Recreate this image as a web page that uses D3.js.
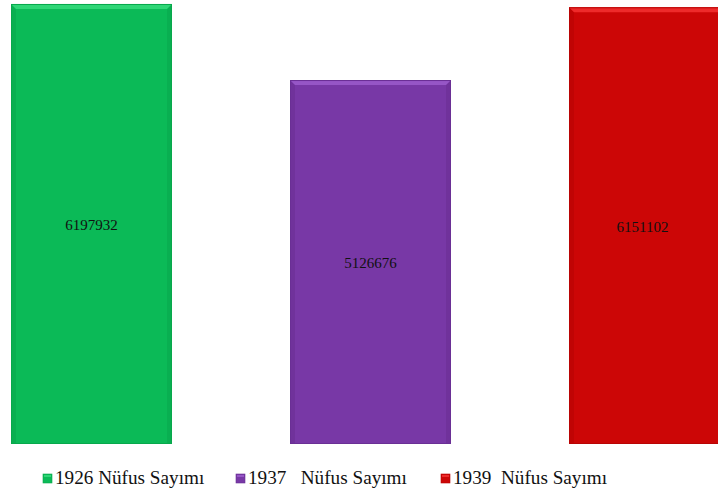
<!DOCTYPE html>
<html>
<head>
<meta charset="utf-8">
<script src="https://cdn.jsdelivr.net/npm/d3@7"></script>
<style>
  body { margin: 0; background: #fff; }
  svg { display: block; font-family: "Liberation Serif", "Times New Roman", serif; }
</style>
</head>
<body>
<svg id="chart" width="718" height="492"></svg>
<script>
const censuses = ["1926 Nüfus Sayımı", "1937   Nüfus Sayımı", "1939  Nüfus Sayımı"];
const population = [6197932, 5126676, 6151102];
const barColors = ["#0bba57", "#7838a6", "#cc0606"];
const topColors = ["#2fd676", "#9656c6", "#ee2a2a"];
const sideColors = ["#08a84c", "#6a2f95", "#b80404"];

const svg = d3.select("#chart");

const x = d3.scaleBand()
  .domain(censuses)
  .range([11, 730])
  .paddingInner(118 / 279)
  .paddingOuter(0);

const y = d3.scaleLinear()
  .domain([0, 6254000])
  .range([444, 0]);

const bev = 5;

censuses.forEach((c, i) => {
  const x0 = x(c), w = x.bandwidth();
  const y0 = y(population[i]), y1 = y(0);
  const g = svg.append("g");

  // body
  g.append("rect")
    .attr("x", x0).attr("y", y0)
    .attr("width", w).attr("height", y1 - y0)
    .attr("fill", barColors[i]);

  // left / right bevel edges
  g.append("polygon")
    .attr("points", [[x0, y0], [x0 + bev, y0 + bev], [x0 + bev, y1 - 1], [x0, y1]].join(" "))
    .attr("fill", sideColors[i]).attr("opacity", 0.6);
  g.append("polygon")
    .attr("points", [[x0 + w, y0], [x0 + w - bev, y0 + bev], [x0 + w - bev, y1 - 1], [x0 + w, y1]].join(" "))
    .attr("fill", sideColors[i]).attr("opacity", 0.6);

  // top bevel
  g.append("polygon")
    .attr("points", [[x0, y0], [x0 + w, y0], [x0 + w - bev, y0 + bev], [x0 + bev, y0 + bev]].join(" "))
    .attr("fill", topColors[i]);

  // outline
  g.append("rect")
    .attr("x", x0 + 0.5).attr("y", y0 + 0.5)
    .attr("width", w - 1).attr("height", y1 - y0 - 1)
    .attr("fill", "none")
    .attr("stroke", sideColors[i]).attr("stroke-width", 1);

  // value label
  g.append("text")
    .attr("x", x0 + w / 2 - (i === 2 ? 7 : 0))
    .attr("y", (y0 + y1) / 2 + 2.5)
    .attr("text-anchor", "middle")
    .attr("dominant-baseline", "middle")
    .attr("font-size", 15)
    .attr("fill", "#111")
    .text(population[i]);
});

// legend
const legendX = [43, 236, 441];
const legend = svg.append("g");
censuses.forEach((c, i) => {
  const lg = legend.append("g").attr("transform", `translate(${legendX[i]},474)`);
  lg.append("rect")
    .attr("x", 0).attr("y", 0).attr("width", 9).attr("height", 9)
    .attr("fill", barColors[i])
    .attr("stroke", sideColors[i]).attr("stroke-width", 0.6);
  lg.append("rect")
    .attr("x", 1).attr("y", 1).attr("width", 7).attr("height", 2)
    .attr("fill", topColors[i]);
  lg.append("text")
    .attr("x", 12).attr("y", 10)
    .attr("font-size", 19.2)
    .attr("fill", "#111")
    .attr("xml:space", "preserve")
    .style("white-space", "pre")
    .text(c);
});
</script>
</body>
</html>
